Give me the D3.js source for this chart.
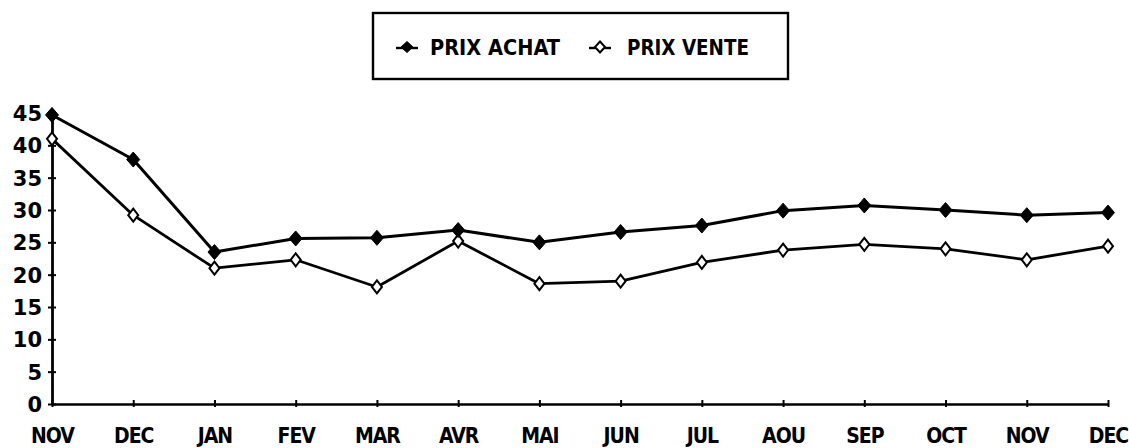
<!DOCTYPE html>
<html>
<head>
<meta charset="utf-8">
<script src="https://cdn.jsdelivr.net/npm/d3@7/dist/d3.min.js"></script>
<style>
  html, body { margin: 0; padding: 0; background: #fff; }
  svg { display: block; }
  .lbl { font-family: "DejaVu Sans Condensed", "DejaVu Sans", sans-serif; font-weight: bold; font-stretch: condensed; fill: #000; }
  .ylbl { font-family: "DejaVu Sans", sans-serif; font-weight: bold; fill: #000; }
</style>
</head>
<body>
<svg id="chart" width="1129" height="448"></svg>
<script>
// ---- data ----
const months = ["NOV","DEC","JAN","FEV","MAR","AVR","MAI","JUN","JUL","AOU","SEP","OCT","NOV","DEC"];
const prixAchat = [44.7, 37.8, 23.5, 25.6, 25.7, 26.9, 25.0, 26.6, 27.6, 29.9, 30.7, 30.0, 29.2, 29.6];
const prixVente = [41.0, 29.2, 21.0, 22.3, 18.1, 25.2, 18.6, 19.0, 21.9, 23.8, 24.7, 24.0, 22.3, 24.4];
const yTicks = [0, 5, 10, 15, 20, 25, 30, 35, 40, 45];
const seriesNames = ["PRIX ACHAT", "PRIX VENTE"];

const svg = d3.select("#chart");
const idx = d3.range(months.length);

const x = d3.scalePoint().domain(idx).range([52, 1108]);
const y = d3.scaleLinear().domain([0, 45]).range([404, 113]);

// ---- axes ----
const yAxis = svg.append("g").attr("transform", "translate(52,0)")
  .call(d3.axisLeft(y).tickValues(yTicks).tickSize(0).tickPadding(10));
yAxis.select(".domain").attr("stroke", "#000").attr("stroke-width", 2.8);
yAxis.selectAll(".tick line").attr("x1", -4).attr("x2", 4).attr("stroke", "#000").attr("stroke-width", 2);
yAxis.selectAll(".tick text").attr("class", "ylbl").attr("font-size", 21).attr("dy", "0.36em");

const xAxis = svg.append("g").attr("transform", "translate(0,404)")
  .call(d3.axisBottom(x).tickFormat(i => months[i]).tickSize(0).tickPadding(32));
xAxis.select(".domain").attr("stroke", "#000").attr("stroke-width", 2.4);
xAxis.selectAll(".tick line").attr("y1", -4).attr("y2", 3).attr("stroke", "#000").attr("stroke-width", 2);
xAxis.selectAll(".tick text").attr("class", "lbl").attr("font-size", 21).attr("letter-spacing", -1).attr("dy", "0.35em");

// ---- lines ----
const line = d3.line().x((d, i) => x(i)).y(d => y(d));
svg.append("path").datum(prixVente).attr("d", line)
  .attr("fill", "none").attr("stroke", "#000").attr("stroke-width", 2.8).attr("stroke-linejoin", "round");
svg.append("path").datum(prixAchat).attr("d", line)
  .attr("fill", "none").attr("stroke", "#000").attr("stroke-width", 3).attr("stroke-linejoin", "round");

// ---- markers ----
function diamond(w, h) {
  return `M0,${-h/2}L${w/2},0L0,${h/2}L${-w/2},0Z`;
}
svg.append("g").selectAll("path").data(prixVente).join("path")
  .attr("transform", (d, i) => `translate(${x(i)},${y(d)})`)
  .attr("d", diamond(10, 13)).attr("fill", "#fff").attr("stroke", "#000").attr("stroke-width", 2);
svg.append("g").selectAll("path").data(prixAchat).join("path")
  .attr("transform", (d, i) => `translate(${x(i)},${y(d)})`)
  .attr("d", diamond(13, 15)).attr("fill", "#000").attr("stroke", "#000").attr("stroke-width", 1);

// ---- legend ----
const lg = svg.append("g");
lg.append("rect").attr("x", 373).attr("y", 13).attr("width", 415).attr("height", 66)
  .attr("fill", "#fff").attr("stroke", "#000").attr("stroke-width", 2.4);
const items = [
  { name: seriesNames[0], mx: 407, tx: 430, filled: true },
  { name: seriesNames[1], mx: 600, tx: 627, filled: false }
];
items.forEach(it => {
  lg.append("line").attr("x1", it.mx - 11).attr("x2", it.mx + 11).attr("y1", 48).attr("y2", 48)
    .attr("stroke", "#000").attr("stroke-width", 2.4);
  lg.append("path").attr("transform", `translate(${it.mx},47)`)
    .attr("d", it.filled ? diamond(12, 11) : diamond(10, 11))
    .attr("fill", it.filled ? "#000" : "#fff").attr("stroke", "#000").attr("stroke-width", it.filled ? 1 : 2);
  lg.append("text").attr("class", "lbl").attr("x", it.tx).attr("y", 55)
    .attr("font-size", 21).attr("textLength", it.filled ? 130 : 122).attr("lengthAdjust", "spacingAndGlyphs")
    .text(it.name);
});
</script>
</body>
</html>
